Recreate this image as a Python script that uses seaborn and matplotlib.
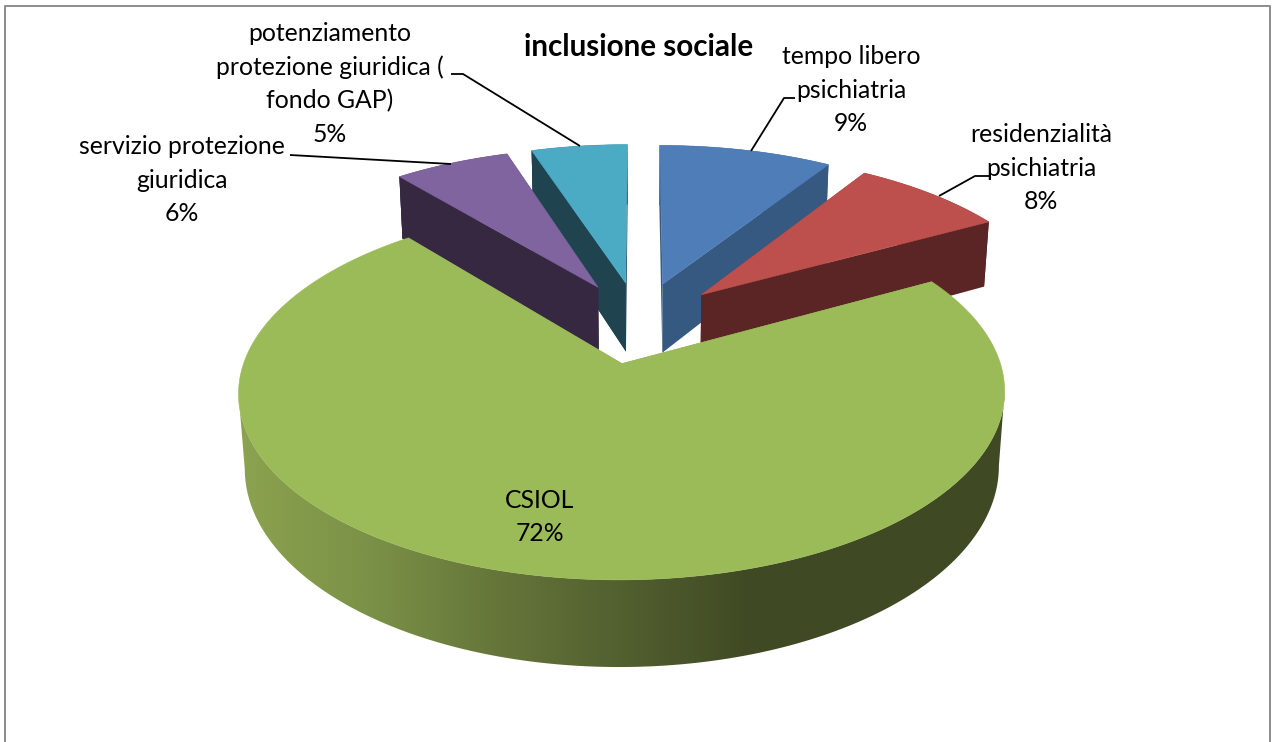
import numpy as np
import pandas as pd
import seaborn as sns
import matplotlib
matplotlib.use("Agg")
import matplotlib.pyplot as plt
from matplotlib.patches import Polygon

# Shares of the "inclusione sociale" budget, clockwise from twelve o'clock
labels = ["tempo libero\npsichiatria", "residenzialità\npsichiatria", "CSIOL",
          "servizio protezione\ngiuridica", "potenziamento\nprotezione giuridica (\nfondo GAP)"]
values = [9, 8, 72, 6, 5]
title = "inclusione sociale"

top_colors = ["#4f7db8", "#bd504d", "#9bbb59", "#8064a0", "#4baac4"]
side_colors = ["#365981", "#5a2524", "#8ba24f", "#362841", "#1f4450"]
wall_ramp = ["#8ba24f", "#7b9147", "#66763a", "#525f2f", "#3f4a24", "#3f4a24", "#3f4a24"]

sns.set_theme(style="white")
plt.rcParams["font.family"] = ["Lato", "DejaVu Sans"]

df = pd.DataFrame({"label": labels, "value": values})
fractions = df["value"] / df["value"].sum()
df["start"] = 2 * np.pi * fractions.cumsum().shift(fill_value=0)
df["end"] = 2 * np.pi * fractions.cumsum()

# Camera used to draw the tilted, exploded disc
CX, CY = 639, 322
SCALE_X, SCALE_Y, THICK = 365, 170, 71
PERSP, EXPLODE = 0.15, 0.24


def project(x, y, z=0.0):
    w = 1 - PERSP * y
    return CX + SCALE_X * x / (w + 0.015 * z), CY + (SCALE_Y * y + THICK * z) / w


def rim(theta, ox, oy, z=0.0):
    return project(ox + np.sin(theta), oy - np.cos(theta), z)


fig = plt.figure(figsize=(12.73, 7.42), dpi=100)
ax = fig.add_axes([0, 0, 1, 1])

# Chart frame, open at the bottom edge
ax.plot([5, 5, 1270, 1270], [742, 6, 6, 742], color="#8c8c8c", lw=1.4, zorder=0)

for order, i in enumerate([0, 1, 4, 3, 2]):
    row = df.iloc[i]
    base = 10 + order * 5
    mid = (row["start"] + row["end"]) / 2
    ox, oy = EXPLODE * np.sin(mid), -EXPLODE * np.cos(mid)
    thetas = np.linspace(row["start"], row["end"], max(int(np.degrees(row["end"] - row["start"])) * 2, 30))
    tx, ty = rim(thetas, ox, oy)

    # Outer wall: only the stretch facing the viewer on the big slice, with a horizontal gradient
    if i == 2:
        front = thetas[np.argmax(tx):np.argmin(tx) + 1]
        fx, fy = rim(front, ox, oy)
        bx, by = rim(front, ox, oy, 1.0)
        wall = Polygon(np.c_[np.r_[fx, bx[::-1]], np.r_[fy, by[::-1]]], closed=True,
                       transform=ax.transData, fc="none", ec="none")
        ax.add_patch(wall)
        cmap = sns.blend_palette(wall_ramp, 256, as_cmap=True)
        shade = ax.imshow(np.linspace(0, 1, 512)[None, :], cmap=cmap, aspect="auto",
                          extent=(240, 1006, 742, 0), zorder=base, interpolation="bilinear")
        shade.set_clip_path(wall)
    else:
        bx, by = rim(thetas, ox, oy, 1.0)
        ax.fill(np.r_[tx, bx[::-1]], np.r_[ty, by[::-1]], color=side_colors[i], lw=0, zorder=base)

    # Radial cut faces
    ax_, ay_ = project(ox, oy)
    az, bz = project(ox, oy, 1.0)
    for theta, bump in ((row["start"], 1), (row["end"], 2)):
        rx, ry = rim(theta, ox, oy)
        rbx, rby = rim(theta, ox, oy, 1.0)
        ax.fill([ax_, rx, rbx, az], [ay_, ry, rby, bz], color=side_colors[i], lw=0, zorder=base + bump)
    if i in (3, 4):
        # on the left-hand slices the start face is the one turned towards the viewer
        rx, ry = rim(row["start"], ox, oy)
        rbx, rby = rim(row["start"], ox, oy, 1.0)
        ax.fill([ax_, rx, rbx, az], [ay_, ry, rby, bz], color=side_colors[i], lw=0, zorder=base + 3)

    # Top face
    ax.fill(np.r_[ax_, tx], np.r_[ay_, ty], color=top_colors[i], lw=0.4, zorder=base + 4)

# Data labels
text_style = dict(ha="center", va="center", fontsize=17.8, color="black", linespacing=1.53, zorder=60)
label_pos = [(851, 90), (1041, 168), (540, 517), (182, 180), (330, 84)]
for (px, py), lab, val in zip(label_pos, labels, values):
    ax.text(px, py, f"{lab}\n{val}%", **text_style)

ax.text(639, 47, title, ha="center", va="center", fontsize=21.3, fontweight="bold", color="black", zorder=60)

# Leader lines
leader_x = [[795, 784, 751], [989, 975, 939], [290, 451], [451, 463, 580]]
leader_y = [[98, 98, 151], [176, 176, 196], [155, 164], [74, 74, 146]]
for xs, ys in zip(leader_x, leader_y):
    ax.plot(xs, ys, color="black", lw=1.3, zorder=55, solid_capstyle="butt")

ax.set_xlim(0, 1273)
ax.set_ylim(742, 0)
ax.axis("off")

fig.savefig("out.png", dpi=100, facecolor="white")
